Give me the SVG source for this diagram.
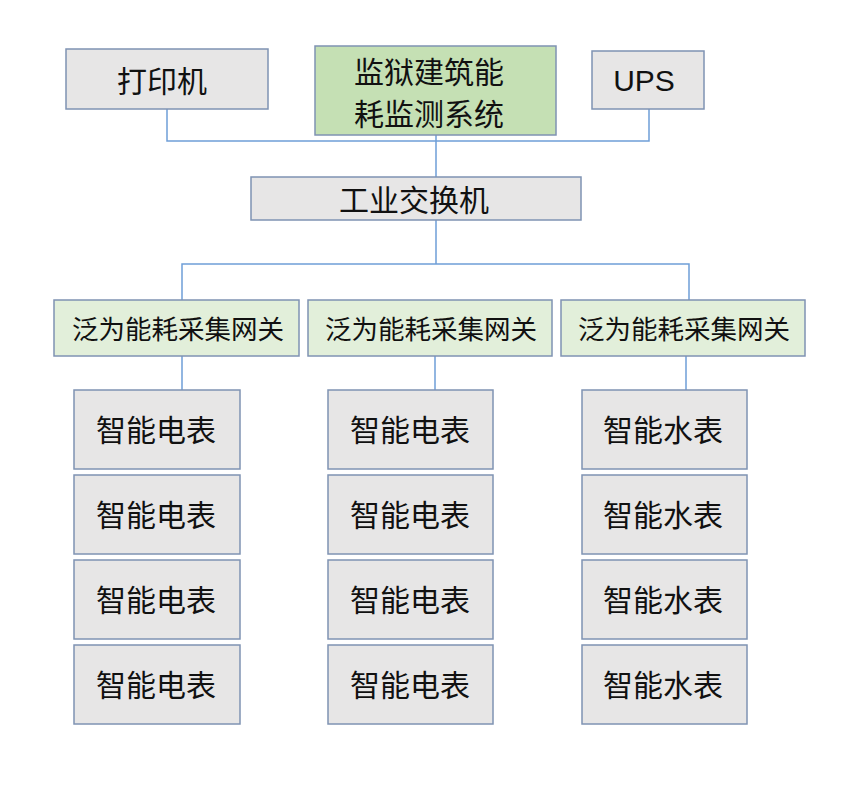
<svg xmlns="http://www.w3.org/2000/svg" width="860" height="790" viewBox="0 0 860 790">
<style>
.g{fill:#e7e6e6;stroke:#7f93b3;stroke-width:1.5}
.gr{fill:#c5e0b4;stroke:#7f93b3;stroke-width:1.5}
.lg{fill:#e2efda;stroke:#7f93b3;stroke-width:1.5}
.t{font-family:"Noto Sans CJK SC","Liberation Sans",sans-serif;fill:#111;text-anchor:middle;dominant-baseline:central;font-size:30px}
.s{font-size:26.5px}
.c{stroke:#6f9fd8;stroke-width:1.5;fill:none}
</style>
<rect width="860" height="790" fill="#fff"/>
<g id="connectors">
<path class="c" d="M167 109V141H649V109M436 135V177M436 220V264M182 300V264H689V300M182 356V390M435 356V390M686 356V390"/>
</g>
<g id="printer"><rect class="g" x="66" y="49" width="202" height="60"/><text class="t" x="162" y="79">打印机</text></g>
<g id="system"><rect class="gr" x="315" y="46" width="241" height="89"/><text class="t" x="429" y="70" font-size="28.5">监狱建筑能</text><text class="t" x="429" y="112" font-size="28.5">耗监测系统</text></g>
<g id="ups"><rect class="g" x="592" y="51" width="112" height="58"/><text class="t" x="644" y="80" style="font-family:'Liberation Sans',sans-serif">UPS</text></g>
<g id="switch"><rect class="g" x="251" y="177" width="330" height="43"/><text class="t" x="414" y="198">工业交换机</text></g>
<g id="gw1"><rect class="lg" x="54" y="300" width="245" height="56"/><text class="t s" x="178" y="327">泛为能耗采集网关</text></g>
<g id="gw2"><rect class="lg" x="308" y="300" width="244" height="56"/><text class="t s" x="431" y="327">泛为能耗采集网关</text></g>
<g id="gw3"><rect class="lg" x="561" y="300" width="244" height="56"/><text class="t s" x="684" y="327">泛为能耗采集网关</text></g>
<g id="e11"><rect class="g" x="74" y="390" width="166" height="79"/><text class="t" x="156" y="428">智能电表</text></g>
<g id="e12"><rect class="g" x="74" y="475" width="166" height="79"/><text class="t" x="156" y="513">智能电表</text></g>
<g id="e13"><rect class="g" x="74" y="560" width="166" height="79"/><text class="t" x="156" y="598">智能电表</text></g>
<g id="e14"><rect class="g" x="74" y="645" width="166" height="79"/><text class="t" x="156" y="683">智能电表</text></g>
<g id="e21"><rect class="g" x="328" y="390" width="165" height="79"/><text class="t" x="410" y="428">智能电表</text></g>
<g id="e22"><rect class="g" x="328" y="475" width="165" height="79"/><text class="t" x="410" y="513">智能电表</text></g>
<g id="e23"><rect class="g" x="328" y="560" width="165" height="79"/><text class="t" x="410" y="598">智能电表</text></g>
<g id="e24"><rect class="g" x="328" y="645" width="165" height="79"/><text class="t" x="410" y="683">智能电表</text></g>
<g id="w1"><rect class="g" x="582" y="390" width="165" height="79"/><text class="t" x="663" y="428">智能水表</text></g>
<g id="w2"><rect class="g" x="582" y="475" width="165" height="79"/><text class="t" x="663" y="513">智能水表</text></g>
<g id="w3"><rect class="g" x="582" y="560" width="165" height="79"/><text class="t" x="663" y="598">智能水表</text></g>
<g id="w4"><rect class="g" x="582" y="645" width="165" height="79"/><text class="t" x="663" y="683">智能水表</text></g>
</svg>
